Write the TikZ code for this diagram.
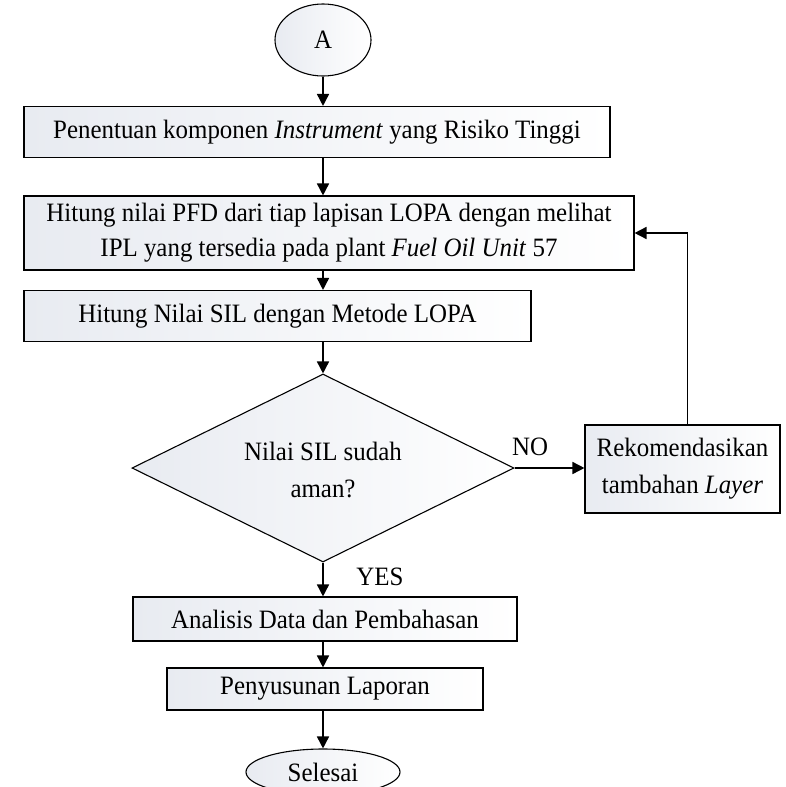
\documentclass[tikz,border=0pt]{standalone}
\usepackage{fontspec}
\setmainfont[FakeStretch=0.94]{Liberation Serif}
\usetikzlibrary{shapes.geometric,arrows.meta}
\tikzset{
  fl/.style={draw=black, line width=1.1pt, left color={rgb,255:red,232;green,235;blue,241}, right color=white, font=\fontsize{26.5}{35}\selectfont, align=center, inner sep=0pt},
  boxn/.style={fl, rectangle},
  ovaln/.style={fl, ellipse},
  decn/.style={fl, diamond},
  arr/.style={line width=1.6pt, -{Triangle[length=12pt,width=12pt]}},
  lbl/.style={font=\fontsize{26.5}{37}\selectfont}
}
\begin{document}
\begin{tikzpicture}[x=1pt,y=-1pt]
\useasboundingbox (0,0) rectangle (786,787);
\node[ovaln, minimum width=96pt, minimum height=72pt] (A) at (323,40) {A};
\node[boxn, minimum width=586pt, minimum height=51pt] (b1) at (317,132) {Penentuan komponen \textit{Instrument} yang Risiko Tinggi};
\node[boxn, minimum width=610pt, minimum height=74pt] (b2) at (329,233) {Hitung nilai PFD dari tiap lapisan LOPA dengan melihat\\IPL yang tersedia pada plant \textit{Fuel Oil Unit} 57};
\node[boxn, minimum width=507pt, minimum height=51pt] (b3) at (277.5,316) {Hitung Nilai SIL dengan Metode LOPA};
\node[decn, minimum width=382pt, minimum height=188pt, aspect=2] (d) at (323,468) {};
\node[lbl, align=center] at (323,470) {Nilai SIL sudah\\aman?};
\node[boxn, font=\fontsize{26.5}{37}\selectfont, minimum width=195pt, minimum height=88pt] (r) at (682.5,469) {Rekomendasikan\\tambahan \textit{Layer}};
\node[boxn, minimum width=384pt, minimum height=44pt] (b4) at (325,619) {Analisis Data dan Pembahasan};
\node[boxn, minimum width=316pt, minimum height=42pt] (b5) at (325,689) {Penyusunan Laporan};
\node[ovaln, minimum width=154pt, minimum height=46pt] (s) at (323,772) {Selesai};
\node[lbl] at (530,447) {NO};
\node[lbl] at (380,577) {YES};
\draw[arr] (A.south) -- (A.south |- b1.north);
\draw[arr] (A.south |- b1.south) -- (A.south |- b2.north);
\draw[arr] (A.south |- b2.south) -- (A.south |- b3.north);
\draw[arr] (A.south |- b3.south) -- (d.north);
\draw[arr] (d.south) -- (d.south |- b4.north);
\draw[arr] (d.south |- b4.south) -- (d.south |- b5.north);
\draw[arr] (d.south |- b5.south) -- (s.north);
\draw[arr] (d.east) -- (d.east -| r.west);
\draw[arr] ([xshift=5pt]r.north) |- (b2.east);
\end{tikzpicture}
\end{document}
